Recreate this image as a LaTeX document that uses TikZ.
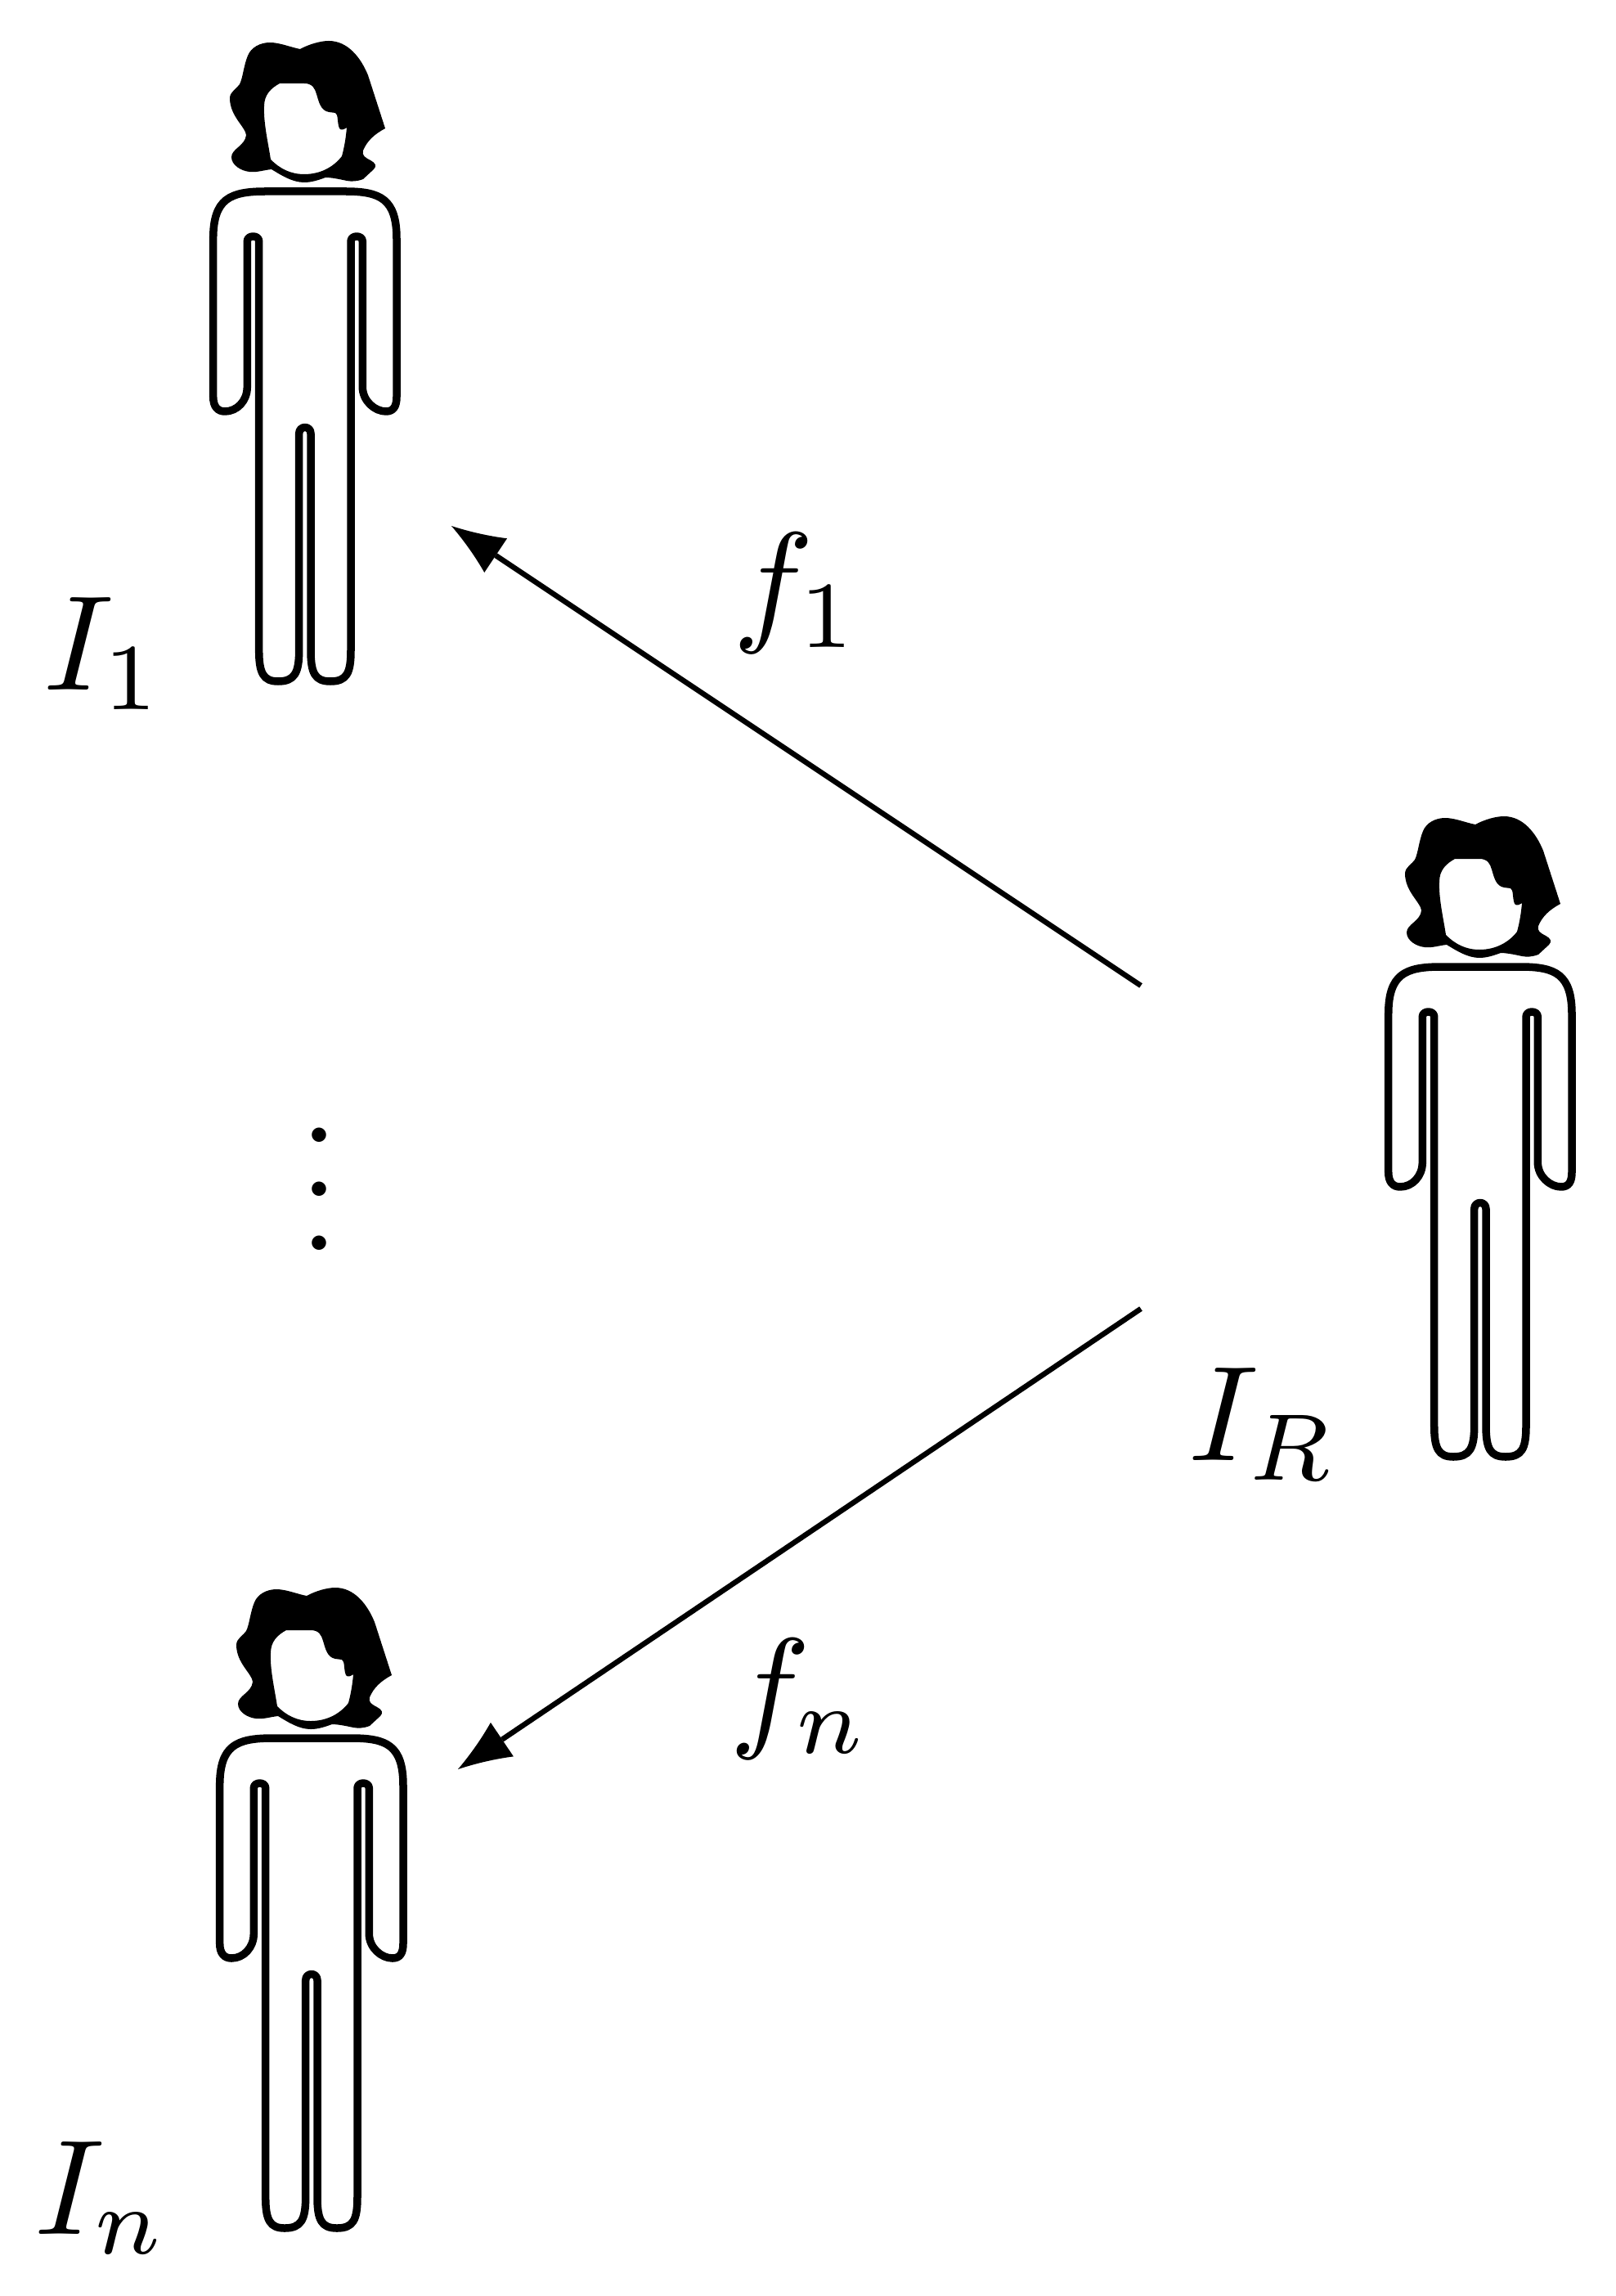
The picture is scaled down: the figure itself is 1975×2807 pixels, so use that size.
\documentclass[tikz,border=0pt]{standalone}
\usepackage{amsmath,amssymb}
\usetikzlibrary{positioning}

\pgfarrowsdeclare{hairtip}{hairtip}{\pgfarrowsleftextend{0cm}\pgfarrowsrightextend{0.65cm}}{
    \pgfpathmoveto{\pgfpoint{0.65cm}{0cm}}
    \pgfpathcurveto{\pgfpoint{0.42cm}{0.065cm}}{\pgfpoint{0.20cm}{0.15cm}}{\pgfpoint{0cm}{0.25cm}}
    \pgfpathlineto{\pgfpoint{0cm}{-0.25cm}}
    \pgfpathcurveto{\pgfpoint{0.20cm}{-0.15cm}}{\pgfpoint{0.42cm}{-0.065cm}}{\pgfpoint{0.65cm}{0cm}}
    \pgfpathclose
    \pgfusepathqfill
}

\tikzset{
    person/.pic={
        % hair with the face cut out
        \fill[even odd rule]
            (367,60) .. controls (378,54) and (392,50) .. (402,50)
            .. controls (425,50) and (441,70) .. (450,92)
            -- (471,157) .. controls (458,164) and (449,172) .. (444,184)
            .. controls (442,190) and (447,193) .. (453,196)
            .. controls (459,199) and (461,203) .. (457,207)
            -- (444,219) .. controls (436,222) and (430,222) .. (424,221)
            .. controls (415,219) and (405,217) .. (398,217)
            .. controls (390,220) and (381,223) .. (372,223)
            .. controls (358,223) and (345,215) .. (332,207)
            .. controls (322,208) and (315,211) .. (305,210)
            .. controls (295,209) and (283,202) .. (283,192)
            .. controls (283,182) and (300,178) .. (301,165)
            .. controls (300,155) and (281,142) .. (281,120)
            .. controls (281,112) and (290,108) .. (293,103)
            .. controls (297,95) and (298,80) .. (303,68)
            .. controls (307,58) and (318,52) .. (330,52)
            .. controls (342,52) and (356,58) .. (367,60) -- cycle
            (342,102) -- (372,102)
            .. controls (382,102) and (385,108) .. (387,115)
            .. controls (390,125) and (392,135) .. (402,137)
            -- (410,138) .. controls (414,140) and (412,150) .. (415,157)
            .. controls (417,160) and (421,158) .. (424,156)
            .. controls (423,168) and (421,180) .. (418,191)
            .. controls (408,204) and (392,213) .. (372,213)
            .. controls (355,213) and (342,206) .. (331,195)
            .. controls (328,175) and (322,150) .. (323,130)
            .. controls (323,116) and (331,108) .. (342,102) -- cycle;
        % body
        \draw[bodyline]
            (325,234) -- (422,234) .. controls (465,234) and (485,243) .. (485,292)
            -- (485,485) .. controls (485,497) and (481,503) .. (472,503)
            .. controls (458,503) and (443.3,490) .. (443.3,473)
            -- (443.3,295) .. controls (443.3,287) and (429,287) .. (429,295)
            -- (429,795) .. controls (429,823) and (424,833) .. (404,833)
            .. controls (385,833) and (380,823) .. (380,795)
            -- (380,530) .. controls (380,520) and (365.7,520) .. (365.7,530)
            -- (365.7,795) .. controls (365.7,823) and (360,833) .. (340,833)
            .. controls (322,833) and (316.7,823) .. (316.7,795)
            -- (316.7,295) .. controls (316.7,287) and (302.3,287) .. (302.3,295)
            -- (302.3,473) .. controls (302.3,490) and (290,503) .. (275,503)
            .. controls (266,503) and (260.7,497) .. (260.7,485)
            -- (260.7,292) .. controls (260.7,243) and (281,234) .. (325,234) -- cycle;
    }
}

\begin{document}
\begin{tikzpicture}[
    x=0.01cm, y=-0.01cm,
    bodyline/.style={line width=0.095cm, line join=round},
    arrow/.style={hairtip-, line width=0.065cm},
    label/.style={scale=4.7, inner sep=0pt}
]
    \useasboundingbox (0,0) rectangle (1975,2807);
    \foreach \x/\y in {0/0, 1437/948, 8/1891} {
        \pic at (\x,\y) {person};
    }
    \node[label] (lblone) at (127,799) {$I_1$};
    \node[label] (lblfone) at (974,725) {$f_1$};
    \node[label] (lblr) at (1544,1741) {$I_R$};
    \node[label] (lblfn) at (978,2077) {$f_n$};
    \node[label] (lbln) at (124,2687) {$I_n$};
    \node[label] (dots) at (390,1404) {$\vdots$};

    \coordinate (tipone) at (552,643);
    \coordinate (startone) at (1395,1205);
    \coordinate (tipn) at (560,2163);
    \coordinate (startn) at (1395,1600);
    \draw[arrow] (tipone) -- (startone);
    \draw[arrow] (tipn) -- (startn);
\end{tikzpicture}
\end{document}
